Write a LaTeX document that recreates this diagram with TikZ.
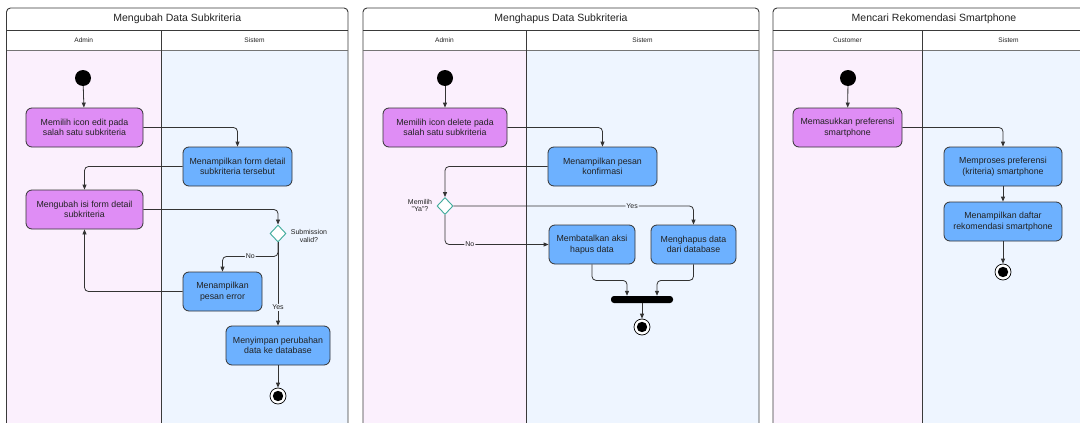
\documentclass[tikz,border=0pt]{standalone}
\usepackage{fontspec}
\setmainfont{Liberation Sans}
\usetikzlibrary{arrows.meta,shapes.geometric,calc}

\definecolor{lanepink}{HTML}{FBF0FD}
\definecolor{laneblue}{HTML}{EEF5FF}
\definecolor{actpurple}{HTML}{DF8DF5}
\definecolor{actblue}{HTML}{6DB1FF}
\definecolor{linec}{HTML}{333333}
\definecolor{framec}{HTML}{3A3A3A}
\definecolor{decc}{HTML}{3DAA9A}
\definecolor{txt}{HTML}{222222}

\tikzset{
  frame/.style={draw=framec, line width=0.9pt},
  sep/.style={draw=framec, line width=0.8pt},
  act/.style={draw=linec, line width=0.8pt, rounded corners=6pt, inner sep=0pt,
    minimum height=39pt, align=center, text=txt,
    font=\fontsize{8.8}{10.5}\selectfont},
  actA/.style={act, fill=actpurple},
  actS/.style={act, fill=actblue},
  startnode/.style={circle, fill=black, inner sep=0pt, minimum size=16pt},
  endnode/.style={circle, draw=black, line width=0.7pt, fill=white, inner sep=0pt, minimum size=16pt,
    path picture={\fill[black] (path picture bounding box.center) circle (5.2pt);}},
  decision/.style={diamond, draw=decc, line width=0.9pt, fill=white, inner sep=0pt,
    minimum width=16pt, minimum height=17pt},
  bar/.style={rectangle, fill=black, rounded corners=3pt, inner sep=0pt, minimum height=7pt},
  flow/.style={draw=linec, line width=0.8pt, rounded corners=4pt, -{Triangle[length=5pt,width=4pt]}},
  guard/.style={font=\fontsize{7}{8}\selectfont, text=txt, inner sep=1pt},
  note/.style={font=\fontsize{7}{7.8}\selectfont, text=txt, align=center, inner sep=0pt},
  titletext/.style={font=\fontsize{10.5}{12}\selectfont, text=txt},
  lanetext/.style={font=\fontsize{6.6}{8}\selectfont, text=txt},
}

\begin{document}
\begin{tikzpicture}[x=1pt, y=-1pt]
\useasboundingbox (0,0) rectangle (1080,423);
\fill[white] (0,0) rectangle (1080,423);
\clip (0,0) rectangle (1080,423);

% ---------- swimlane frames ----------
% left edge, lane divider, right edge, title, left lane, right lane
\foreach \L/\M/\R/\T/\LA/\LB in {
  6.5/161/348/Mengubah Data Subkriteria/Admin/Sistem,
  363/526/759/Menghapus Data Subkriteria/Admin/Sistem,
  773/922/1095/Mencari Rekomendasi Smartphone/Customer/Sistem}{
  \fill[lanepink] (\L,50) rectangle (\M,440);
  \fill[laneblue] (\M,50) rectangle (\R,440);
  \fill[white, rounded corners=4pt] (\L,50) -- (\L,8) -- (\R,8) -- (\R,50) -- cycle;
  \draw[frame, rounded corners=4pt] (\L,440) -- (\L,8) -- (\R,8) -- (\R,440);
  \draw[sep] (\L,30) -- (\R,30);
  \draw[sep, draw=framec!70] (\L,50) -- (\R,50);
  \draw[sep] (\M,30) -- (\M,440);
  \node[titletext] at ({(\L+\R)/2},19) {\T};
  \node[lanetext] at ({(\L+\M)/2},40) {\LA};
  \node[lanetext] at ({(\M+\R)/2},40) {\LB};
}

% ---------- Mengubah Data Subkriteria ----------
\node[startnode] (st1) at (83,78) {};
\node[actA, minimum width=117pt] (a1) at (84.5,127.5) {Memilih icon edit pada\\salah satu subkriteria};
\node[actS, minimum width=109pt] (s1) at (237.5,166.5) {Menampilkan form detail\\subkriteria tersebut};
\node[actA, minimum width=117pt] (a2) at (84.5,209.5) {Mengubah isi form detail\\subkriteria};
\node[decision] (d1) at (278,233.5) {};
\node[note] (d1lbl) at (309,236) {Submission\\valid?};
\node[actS, minimum width=79pt] (s2) at (222.5,291.5) {Menampilkan\\pesan error};
\node[actS, minimum width=104pt] (s3) at (278,345.5) {Menyimpan perubahan\\data ke database};
\node[endnode] (e1) at (278,396) {};

\draw[flow] (st1) -- (a1);
\draw[flow] (a1.east) -| (s1.north);
\draw[flow] (s1.west) -| (a2.north);
\draw[flow] (a2.east) -| (d1.north);
\draw[flow] (d1.south) -- node[guard, fill=laneblue, pos=0.78] {Yes} (s3.north);
\draw[flow] (d1.south) -- ++(0,14) -| node[guard, fill=laneblue, pos=0.25] {No} (s2.north);
\draw[flow] (s2.west) -| (a2.south);
\draw[flow] (s3) -- (e1);

% ---------- Menghapus Data Subkriteria ----------
\node[startnode] (st2) at (445,78) {};
\node[actA, minimum width=124pt] (b1) at (445,127.5) {Memilih icon delete pada\\salah satu subkriteria};
\node[actS, minimum width=109pt] (t1) at (602.5,166.5) {Menampilkan pesan\\konfirmasi};
\node[decision] (d2) at (445,206) {};
\node[note, align=center] (d2lbl) at (420,205.5) {Memilih\\"Ya"?};
\node[actS, minimum width=86pt] (t2) at (592,244.5) {Membatalkan aksi\\hapus data};
\node[actS, minimum width=85pt] (t3) at (693.5,244.5) {Menghapus data\\dari database};
\node[bar, minimum width=62pt] (jn) at (642,299.5) {};
\node[endnode] (e2) at (642,327) {};

\draw[flow] (st2) -- (b1);
\draw[flow] (b1.east) -| (t1.north);
\draw[flow] (t1.west) -| (d2.north);
\draw[flow] (d2.east) -| node[guard, fill=laneblue, pos=0.372] {Yes} (t3.north);
\draw[flow] (d2.south) |- node[guard, fill=lanepink, pos=0.62] {No} (t2.west);
\draw[flow] (t2.south) -- ++(0,16) -| ($(jn.north)+(-15,0)$);
\draw[flow] (t3.south) -- ++(0,16) -| ($(jn.north)+(15,0)$);
\draw[flow] (jn) -- (e2);

% ---------- Mencari Rekomendasi Smartphone ----------
\node[startnode] (st3) at (848,78) {};
\node[actA, minimum width=109pt] (c1) at (847.5,127.5) {Memasukkan preferensi\\smartphone};
\node[actS, minimum width=118pt] (u1) at (1003,166.5) {Memproses preferensi\\(kriteria) smartphone};
\node[actS, minimum width=118pt] (u2) at (1003,221.5) {Menampilkan daftar\\rekomendasi smartphone};
\node[endnode] (e3) at (1003,272) {};

\draw[flow] (st3) -- (c1);
\draw[flow] (c1.east) -| (u1.north);
\draw[flow] (u1) -- (u2);
\draw[flow] (u2) -- (e3);
\end{tikzpicture}
\end{document}
